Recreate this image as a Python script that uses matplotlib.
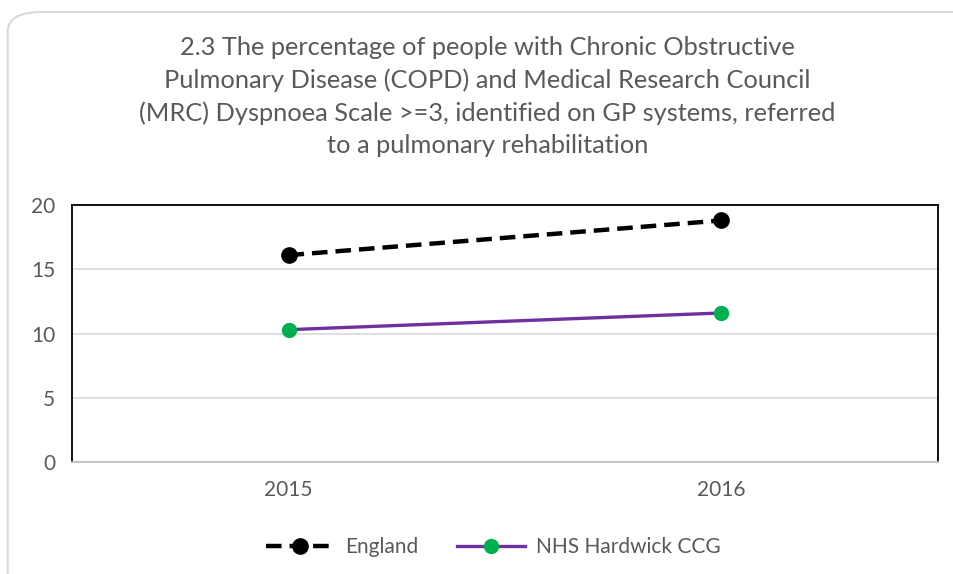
import matplotlib.pyplot as plt
from matplotlib.patches import FancyBboxPatch

years = ["2015", "2016"]
england = [16.1, 18.8]
hardwick = [10.3, 11.6]
yticks = [0, 5, 10, 15, 20]

plt.rcParams['font.family'] = ['Lato', 'DejaVu Sans']

fig = plt.figure(figsize=(9.54, 5.74), dpi=100)

# outer rounded frame (runs off the bottom and right edges)
box = FancyBboxPatch((0.008, -0.05), 1.05, 1.029, boxstyle="round,pad=0,rounding_size=0.035",
                     transform=fig.transFigure, facecolor="none", edgecolor="#D9D9D9",
                     linewidth=1.5, zorder=-1)
fig.patches.append(box)

ax = fig.add_axes([0.0755, 0.1951, 0.9077, 0.4477])
x = range(len(years))
ax.plot(x, england, color="black", linewidth=3.2, linestyle=(0, (3.5, 1.8)),
        marker="o", markersize=11, label="England", zorder=3)
ax.plot(x, hardwick, color="#7030A0", linewidth=2.4, marker="o", markersize=10,
        markerfacecolor="#00B050", markeredgecolor="#00B050", label="NHS Hardwick CCG", zorder=3)

ax.set_xlim(-0.5, 1.5)
ax.set_ylim(0, 20)
ax.set_yticks(yticks)
ax.set_xticks(list(x))
ax.set_xticklabels(years)
ax.grid(axis="y", color="#D9D9D9", linewidth=1.2)
ax.set_axisbelow(True)
ax.tick_params(length=0, labelsize=15, colors="#595959", pad=12)
ax.tick_params(axis="x", pad=13)
for s in ["top", "left", "right"]:
    ax.spines[s].set_color("black")
    ax.spines[s].set_linewidth(1.3)
ax.spines["bottom"].set_color("#BFBFBF")
ax.spines["bottom"].set_linewidth(1.3)

fig.text(0.511, 0.832,
         "2.3 The percentage of people with Chronic Obstructive\n"
         "Pulmonary Disease (COPD) and Medical Research Council\n"
         "(MRC) Dyspnoea Scale >=3, identified on GP systems, referred\n"
         "to a pulmonary rehabilitation",
         ha="center", va="center", fontsize=18.3, color="#595959", linespacing=1.47)

fig.legend(loc="center", bbox_to_anchor=(0.517, 0.047), ncol=2, frameon=False,
           fontsize=15, labelcolor="#595959", handlelength=3.3, columnspacing=1.85,
           handletextpad=0.5)

fig.savefig("out.png", dpi=100)
